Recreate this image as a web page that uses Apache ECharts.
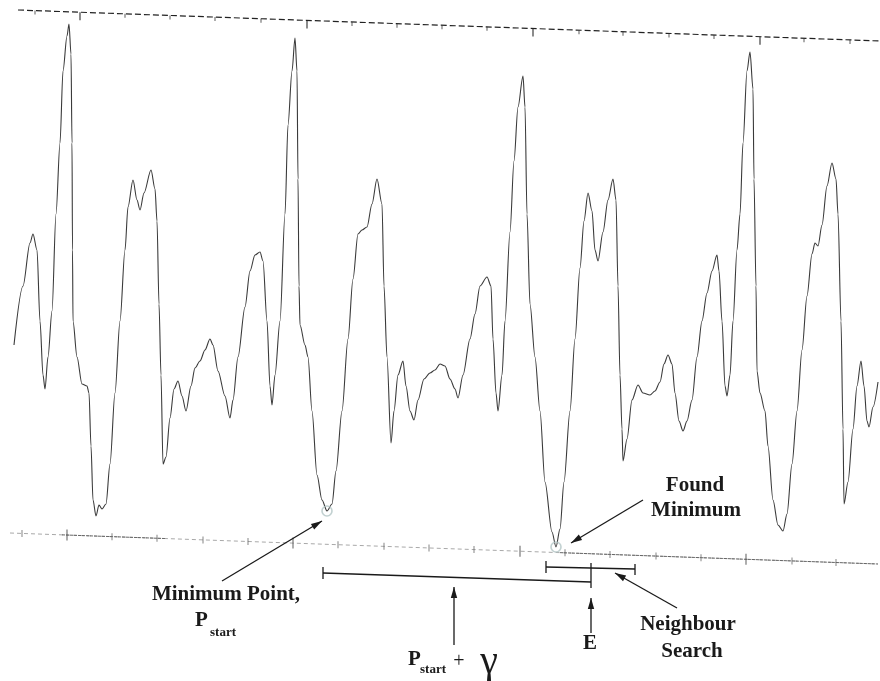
<!DOCTYPE html>
<html><head><meta charset="utf-8">
<script src="https://cdn.jsdelivr.net/npm/echarts@6/dist/echarts.min.js"></script>
<style>html,body{margin:0;padding:0;background:#fff}#c{width:880px;height:681px}</style>
</head><body><div id="c"></div>
<script>
// ---- data (time sample, amplitude) ----
const sampleT = [14,23,30,33,37,40,43,45,48,52,56,60,63,67,69,71,72,72.5,73,77,82,87,89,91,93,96,99,102,106,110,115,120,125,128,133,137,140,144,151,155,157,159,161,163,166,170,174,178,182,186,191,195,200,205,210,213,218,225,230,233,238,245,250,255,260,263,267,270,272,275,280,285,288,292,295,297,298,299,300,305,308,312,317,322,327,332,336,342,348,353,358,362,367,372,377,382,384,387,391,394,398,403,406,410,414,418,424,430,435,440,445,450,455,458,463,470,475,480,487,491,493,496,498,502,505,510,514,518,523,525,527,530,535,540,545,552,556,560,564,570,575,580,584,588,592,595,598,603,608,613,616,618,620,622,623,627,632,638,643,650,655,660,664,668,672,675,679,683,687,692,697,702,707,712,717,719,722,725,727,730,733,737,740,743,747,750,753,754,756,757,760,765,768,773,778,783,787,792,797,802,807,812,815,818,822,827,832,836,838,841,843,844,848,853,857,861,864,867,869,873,878];
const amplitude = [336,395,438,447,431,360,306,292,324,370,467,538,610,645,657,627,538,431,360,324,297,295,288,235,181,165,176,172,177,217,288,360,431,474,501,481,471,488,511,492,460,377,306,217,224,263,292,300,285,270,295,313,320,331,342,336,310,285,263,281,324,374,410,426,429,420,360,295,276,306,360,467,556,610,643,610,502,395,356,336,324,270,206,181,170,177,210,270,342,402,447,451,454,477,502,477,395,324,238,270,306,320,295,270,261,281,302,308,311,317,315,302,292,283,306,342,367,395,404,395,342,288,270,306,360,449,520,574,605,574,467,377,324,270,199,149,134,152,199,270,342,413,460,488,470,431,420,449,481,502,481,395,306,252,220,242,281,296,288,286,290,299,317,326,317,288,260,250,260,281,324,360,388,410,426,410,360,295,285,306,360,431,467,538,610,629,592,502,395,310,288,270,235,181,156,150,167,217,270,331,385,427,438,435,456,495,518,502,467,360,252,177,199,252,295,320,295,260,254,274,299];

// minimum points marked on the trace
const pStartT = 327;      // Minimum Point, P_start
const foundT = 556;       // Found Minimum
const eT = 591;           // E = P_start + gamma
const searchRange = [546, 635]; // Neighbour Search window

// frame lines (slightly skewed scan), ends in (t, amplitude)
const topAxisEnds = [[18, 671], [880, 640]];
const bottomAxisEnds = [[10, 148], [878, 117]];
const bottomDarkRanges = [[62, 165], [560, 878]];
const topMinorTicks = [35,125,170,215,261,352,397,442,487,579,623,669,714,804,850];
const topMajorTicks = [80,307,533,760];
const bottomMinorTicks = [22,112,157,203,248,338,384,429,474,565,610,656,701,792,836];
const bottomMajorTicks = [67,293,520,746];

// ---- build ----
const chart = echarts.init(document.getElementById('c'));
const wave = sampleT.map((t, i) => [t, amplitude[i]]);
function along(ends, t) { const a = ends[0], b = ends[1]; return a[1] + (b[1] - a[1]) * (t - a[0]) / (b[0] - a[0]); }
function onLine(ends, ts) { return ts.map(t => [t, along(ends, t)]); }
function ampAt(t) { return amplitude[sampleT.indexOf(t)]; }

const series = [
  { type: 'line', data: onLine(topAxisEnds, [topAxisEnds[0][0], topAxisEnds[1][0]]), symbol: 'none',
    lineStyle: { color: '#222', width: 1.2, type: [6, 3] } },
  { type: 'line', data: onLine(bottomAxisEnds, [bottomAxisEnds[0][0], bottomAxisEnds[1][0]]), symbol: 'none',
    lineStyle: { color: '#a8a8a8', width: 1, type: [4, 3] } }
];
bottomDarkRanges.forEach(r => series.push({ type: 'line', data: onLine(bottomAxisEnds, r), symbol: 'none',
  lineStyle: { color: '#666', width: 1, type: [3, 1] } }));
series.push(
  { type: 'scatter', data: onLine(topAxisEnds, topMinorTicks), symbol: 'rect', symbolSize: [1, 4], symbolOffset: [0, 2], itemStyle: { color: '#333' } },
  { type: 'scatter', data: onLine(topAxisEnds, topMajorTicks), symbol: 'rect', symbolSize: [1.3, 8], symbolOffset: [0, 4], itemStyle: { color: '#222' } },
  { type: 'scatter', data: onLine(bottomAxisEnds, bottomMinorTicks), symbol: 'rect', symbolSize: [1, 7], itemStyle: { color: '#666' } },
  { type: 'scatter', data: onLine(bottomAxisEnds, bottomMajorTicks), symbol: 'rect', symbolSize: [1.2, 11], itemStyle: { color: '#555' } },
  { type: 'line', data: wave, symbol: 'none', smooth: 0.3, smoothMonotone: 'x',
    lineStyle: { color: '#3a3a3a', width: 1.1 } },
  { type: 'scatter', data: [[pStartT, ampAt(pStartT)], [foundT, ampAt(foundT)]], symbol: 'circle', symbolSize: 10,
    itemStyle: { color: 'rgba(255,255,255,0)', borderColor: '#b3c6c6', borderWidth: 1.6 } }
);

chart.setOption({
  animation: false,
  grid: { left: 0, right: 0, top: 0, bottom: 0 },
  xAxis: { type: 'value', min: 0, max: 880, show: false },
  yAxis: { type: 'value', min: 0, max: 681, show: false },
  series: series.map(s => Object.assign({ silent: true, z: 2 }, s))
});

// ---- annotations ----
const P = (t, a) => chart.convertToPixel({ gridIndex: 0 }, [t, a]);
const ink = '#1a1a1a';
const g = [];
function seg(x1, y1, x2, y2, w) { g.push({ type: 'line', silent: true, z: 10, shape: { x1, y1, x2, y2 }, style: { stroke: ink, lineWidth: w || 1.3 } }); }
function arrow(x1, y1, x2, y2) {
  seg(x1, y1, x2, y2, 1.3);
  const dx = x2 - x1, dy = y2 - y1, L = Math.hypot(dx, dy), ux = dx / L, uy = dy / L, len = 11, w = 3.2;
  g.push({ type: 'polygon', silent: true, z: 10, shape: { points: [[x2, y2], [x2 - ux * len - uy * w, y2 - uy * len + ux * w], [x2 - ux * len + uy * w, y2 - uy * len - ux * w]] }, style: { fill: ink } });
}
function txt(s, x, y, font, align) {
  g.push({ type: 'text', silent: true, z: 10, style: { text: s, x, y, font, fill: ink, textAlign: align || 'center', textVerticalAlign: 'middle', align: align || 'center', verticalAlign: 'middle' } });
}
const bold = 'bold 21px "Liberation Serif", serif';
const sub = 'bold 13px "Liberation Serif", serif';

const pS = P(pStartT, ampAt(pStartT));
const pF = P(foundT, ampAt(foundT));
const xE = P(eT, 0)[0];
const xS0 = P(searchRange[0], 0)[0], xS1 = P(searchRange[1], 0)[0];
const xB0 = pS[0] - 4;

// P_start + gamma bracket
seg(xB0, 573, xE, 582);
seg(xB0, 567, xB0, 579);
seg(xE, 563, xE, 588);
// neighbour search bracket
seg(xS0, 567, xS1, 569);
seg(xS0, 561, xS0, 573);
seg(xS1, 564, xS1, 575);

arrow(222, 581, pS[0] - 5, pS[1] + 10);
arrow(643, 500, pF[0] + 15, pF[1] - 4);
arrow(454, 645, 454, 587);
arrow(xE, 633, xE, 598);
arrow(677, 608, 615, 573);

txt('Minimum Point,', 226, 595, bold);
txt('P', 195, 621, bold, 'left');
txt('start', 210, 633, sub, 'left');
txt('P', 408, 660, bold, 'left');
txt('start', 420, 670, sub, 'left');
txt('+', 459, 662, '20px "Liberation Serif", serif');
txt('\u03b3', 489, 662, '40px "Liberation Serif", serif');
txt('E', 590, 644, bold);
txt('Neighbour', 688, 625, bold);
txt('Search', 692, 652, bold);
txt('Found', 695, 486, bold);
txt('Minimum', 696, 511, bold);

chart.setOption({ graphic: { elements: g } });
</script></body></html>
